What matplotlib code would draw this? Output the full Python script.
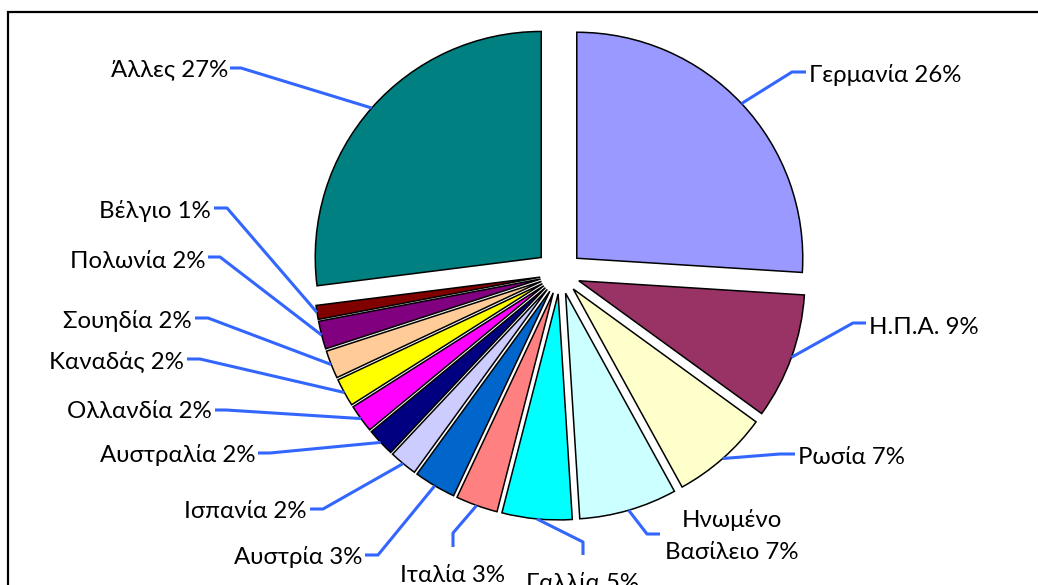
import numpy as np
import matplotlib
matplotlib.use('Agg')
import matplotlib.pyplot as plt

plt.rcParams['font.family'] = ['Lato', 'DejaVu Sans']

# Data (clockwise from 12 o'clock)
countries = ['Γερμανία', 'Η.Π.Α.', 'Ρωσία', 'Ηνωμένο\nΒασίλειο', 'Γαλλία', 'Ιταλία',
             'Αυστρία', 'Ισπανία', 'Αυστραλία', 'Ολλανδία', 'Καναδάς', 'Σουηδία',
             'Πολωνία', 'Βέλγιο', 'Άλλες']
shares = [26, 9, 7, 7, 5, 3, 3, 2, 2, 2, 2, 2, 2, 1, 27]
colors = ['#9999FF', '#993366', '#FFFFCC', '#CCFFFF', '#00FFFF', '#FF8080',
          '#0066CC', '#CCCCFF', '#000080', '#FF00FF', '#FFFF00', '#FFCC99',
          '#800080', '#800000', '#008080']

W, H = 1038, 585
def Y(y):
    return H - y

fig = plt.figure(figsize=(W / 100, H / 100), dpi=100)
ax = fig.add_axes([0, 0, 1, 1])

R = 226
# pie explode is in data units (pixels here)
explode = [23] + [20] * 13 + [25]
wedges, _ = ax.pie(shares, colors=colors, startangle=90, counterclock=False,
                   center=(560, Y(274)), radius=R, explode=explode,
                   wedgeprops=dict(edgecolor='black', linewidth=1.1))
ax.set_xlim(0, W)
ax.set_ylim(0, H)
ax.axis('off')

# label placement in pixels: (text x, text y, ha, [elbow points...])
layout = [
    (809, 75, 'left', [(792, 72), (806, 72)]),
    (869, 327, 'left', [(853, 323), (866, 323)]),
    (798, 457, 'left', [(780, 454), (795, 454)]),
    (732, 536, 'center', [(647, 534), (660, 534)]),
    (583, 584, 'center', [(583, 542), (583, 555)]),
    (452, 575, 'center', [(453, 533), (453, 547)]),
    (362, 557, 'right', [(378, 555), (365, 555)]),
    (307, 512, 'right', [(323, 509), (310, 509)]),
    (255, 455, 'right', [(270, 453), (258, 453)]),
    (212, 412, 'right', [(226, 410), (215, 410)]),
    (184, 361, 'right', [(200, 359), (187, 359)]),
    (192, 321, 'right', [(208, 318), (195, 318)]),
    (205, 261, 'right', [(220, 257), (208, 257)]),
    (211, 211, 'right', [(227, 208), (214, 208)]),
    (228, 70, 'right', [(241, 68), (230, 68)]),
]

for w, name, val, (tx, ty, ha, pts) in zip(wedges, countries, shares, layout):
    mid = np.deg2rad((w.theta1 + w.theta2) / 2)
    sx = w.center[0] + w.r * np.cos(mid)
    sy = w.center[1] + w.r * np.sin(mid)
    xs = [sx] + [p[0] for p in pts]
    ys = [sy] + [Y(p[1]) for p in pts]
    ax.plot(xs, ys, color='#3366FF', lw=2.2, solid_capstyle='butt', zorder=1)
    ax.text(tx, Y(ty), f'{name} {val}%', ha=ha, va='center', fontsize=17.3,
            multialignment='center', linespacing=1.6, color='black')

# outer frame (right and bottom lie outside the picture)
ax.plot([8, 8, 1100], [Y(700), Y(12), Y(12)], color='black', lw=1.6,
        solid_joinstyle='miter')

fig.savefig('out.png', dpi=100)
